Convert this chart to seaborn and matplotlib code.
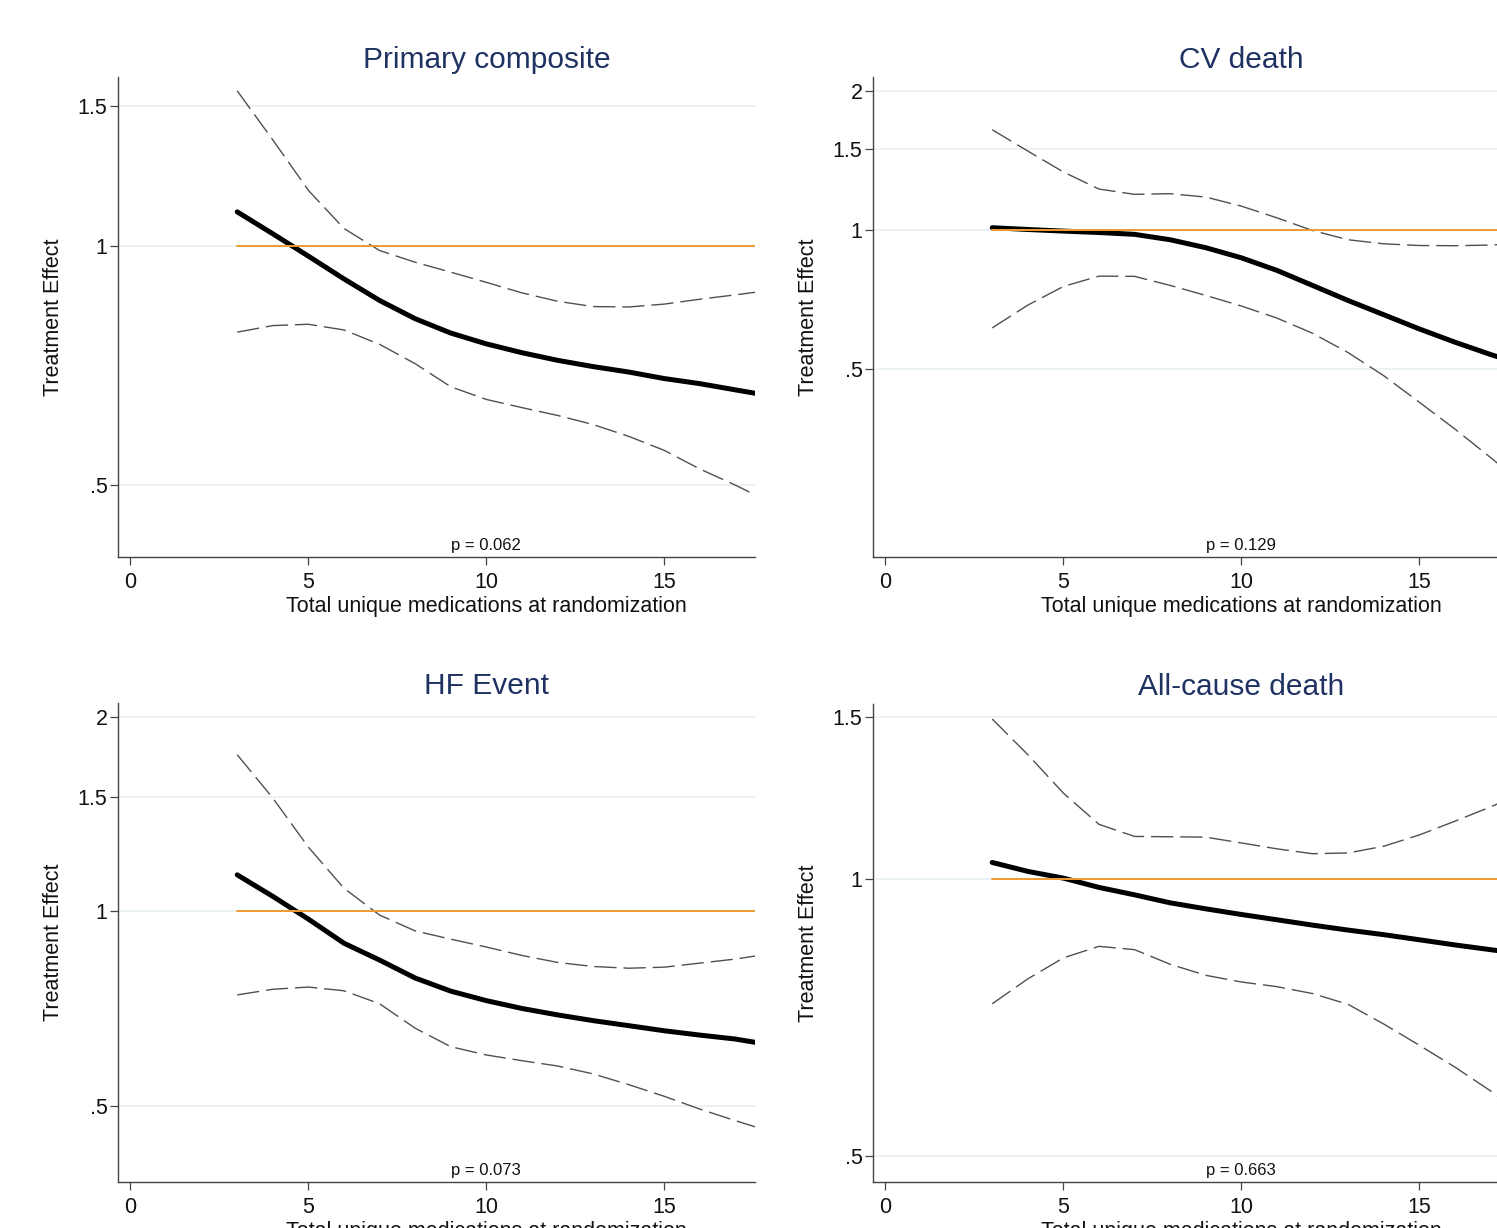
import numpy as np
import pandas as pd
import seaborn as sns
from matplotlib import pyplot as plt
from matplotlib.ticker import FixedLocator, FixedFormatter, NullLocator

sns.set_style("white")
plt.rcParams['font.family'] = ['Liberation Sans', 'DejaVu Sans']

# total unique medications at randomization
x_meds = [3, 4, 5, 6, 7, 8, 9, 10, 11, 12, 13, 14, 15, 16, 17, 17.6]

# Primary composite
pc_est = [1.104, 1.036, 0.971, 0.909, 0.854, 0.810, 0.777, 0.753, 0.734, 0.718, 0.705, 0.694, 0.681, 0.671, 0.659, 0.652]
pc_hi = [1.568, 1.36, 1.175, 1.052, 0.987, 0.954, 0.927, 0.900, 0.873, 0.852, 0.839, 0.838, 0.845, 0.857, 0.868, 0.875]
pc_lo = [0.779, 0.794, 0.797, 0.784, 0.752, 0.711, 0.665, 0.641, 0.626, 0.612, 0.596, 0.576, 0.553, 0.524, 0.500, 0.485]

# CV death
cv_est = [1.012, 1.003, 0.995, 0.988, 0.979, 0.953, 0.916, 0.871, 0.818, 0.759, 0.704, 0.656, 0.611, 0.572, 0.538, 0.520]
cv_hi = [1.649, 1.483, 1.336, 1.227, 1.195, 1.199, 1.179, 1.127, 1.063, 0.998, 0.953, 0.934, 0.926, 0.925, 0.928, 0.934]
cv_lo = [0.614, 0.688, 0.755, 0.795, 0.794, 0.759, 0.722, 0.685, 0.645, 0.598, 0.543, 0.484, 0.424, 0.371, 0.322, 0.295]

# HF Event
hf_est = [1.138, 1.054, 0.972, 0.892, 0.840, 0.788, 0.752, 0.727, 0.707, 0.691, 0.677, 0.665, 0.653, 0.643, 0.634, 0.626]
hf_hi = [1.746, 1.496, 1.256, 1.085, 0.986, 0.932, 0.905, 0.880, 0.854, 0.833, 0.821, 0.816, 0.819, 0.831, 0.843, 0.853]
hf_lo = [0.742, 0.757, 0.763, 0.753, 0.719, 0.659, 0.617, 0.599, 0.587, 0.576, 0.560, 0.539, 0.517, 0.494, 0.474, 0.463]

# All-cause death
ac_est = [1.042, 1.019, 1.002, 0.979, 0.961, 0.942, 0.928, 0.915, 0.903, 0.891, 0.880, 0.870, 0.859, 0.848, 0.838, 0.832]
ac_hi = [1.491, 1.364, 1.239, 1.146, 1.112, 1.111, 1.110, 1.094, 1.078, 1.065, 1.067, 1.085, 1.116, 1.155, 1.197, 1.225]
ac_lo = [0.732, 0.779, 0.821, 0.845, 0.838, 0.808, 0.786, 0.773, 0.764, 0.751, 0.731, 0.696, 0.660, 0.625, 0.589, 0.565]

titles = ['Primary composite', 'CV death', 'HF Event', 'All-cause death']
p_values = ['p = 0.062', 'p = 0.129', 'p = 0.073', 'p = 0.663']
x_ticks = [0, 5, 10, 15]
y_ticks = [[0.5, 1, 1.5], [0.5, 1, 1.5, 2], [0.5, 1, 1.5, 2], [0.5, 1, 1.5]]
y_ticklabels = [['.5', '1', '1.5'], ['.5', '1', '1.5', '2'], ['.5', '1', '1.5', '2'], ['.5', '1', '1.5']]
y_limits = [(0.406, 1.632), (0.196, 2.145), (0.381, 2.099), (0.469, 1.548)]

series = [(pc_est, pc_lo, pc_hi), (cv_est, cv_lo, cv_hi), (hf_est, hf_lo, hf_hi), (ac_est, ac_lo, ac_hi)]

W, H = 1497, 1228
# axes boxes in pixels: left, top, right, bottom (right panels run past the crop)
boxes = [(118, 77, 755, 557), (873, 77, 1510, 557), (118, 703, 755, 1182), (873, 704, 1510, 1182)]

navy = '#1f3262'
orange = '#ef9a35'
grid_col = '#e8f1f3'

fig = plt.figure(figsize=(W / 100, H / 100), dpi=100)

for i in range(4):
    l, t, r, b = boxes[i]
    ax = fig.add_axes([l / W, 1 - b / H, (r - l) / W, (b - t) / H])
    est, lo, hi = series[i]
    df = pd.DataFrame({'x': x_meds, 'est': est, 'lo': lo, 'hi': hi, 'ref': [1] * len(x_meds)})

    ax.set_yscale('log')
    for yt in y_ticks[i]:
        ax.axhline(yt, color=grid_col, lw=1.3, zorder=0)

    sns.lineplot(data=df, x='x', y='lo', ax=ax, color='#505050', lw=1.0, linestyle=(0, (16, 5)), zorder=2)
    sns.lineplot(data=df, x='x', y='hi', ax=ax, color='#505050', lw=1.0, linestyle=(0, (16, 5)), zorder=2)
    sns.lineplot(data=df, x='x', y='est', ax=ax, color='black', lw=3.6, zorder=3)
    sns.lineplot(data=df, x='x', y='ref', ax=ax, color=orange, lw=1.4, zorder=4)

    ax.set_xlim(-0.35, 17.55)
    ax.set_ylim(*y_limits[i])
    ax.yaxis.set_major_locator(FixedLocator(y_ticks[i]))
    ax.yaxis.set_major_formatter(FixedFormatter(y_ticklabels[i]))
    ax.yaxis.set_minor_locator(NullLocator())
    ax.set_xticks(x_ticks)
    ax.set_xticklabels([str(v) for v in x_ticks])

    for s in ['top', 'right']:
        ax.spines[s].set_visible(False)
    for s in ['left', 'bottom']:
        ax.spines[s].set_color('#444444')
        ax.spines[s].set_linewidth(1.0)
    ax.tick_params(axis='both', which='major', direction='out', length=5.5, width=0.9,
                   color='#444444', labelsize=15.5, labelcolor='#111111',
                   bottom=True, left=True)
    ax.tick_params(axis='y', pad=2)
    ax.tick_params(axis='x', pad=5)

    ax.set_xlabel('Total unique medications at randomization', fontsize=15.5, color='#111111')
    ax.xaxis.set_label_coords(0.578, -0.082)
    ax.xaxis.label.set_va('top')
    ax.set_ylabel('Treatment Effect', fontsize=15.5, color='#111111')
    ax.yaxis.set_label_coords(-0.085, 0.5)

    ax.text(10, 1 + 17 / (b - t), titles[i], transform=ax.get_xaxis_transform(),
            ha='center', va='center', fontsize=21.5, color=navy)
    ax.text(10, 4 / (b - t), p_values[i], transform=ax.get_xaxis_transform(),
            ha='center', va='bottom', fontsize=12, color='#111111')
    ax.set_facecolor('white')

fig.savefig('out.png', dpi=100, facecolor='white')
